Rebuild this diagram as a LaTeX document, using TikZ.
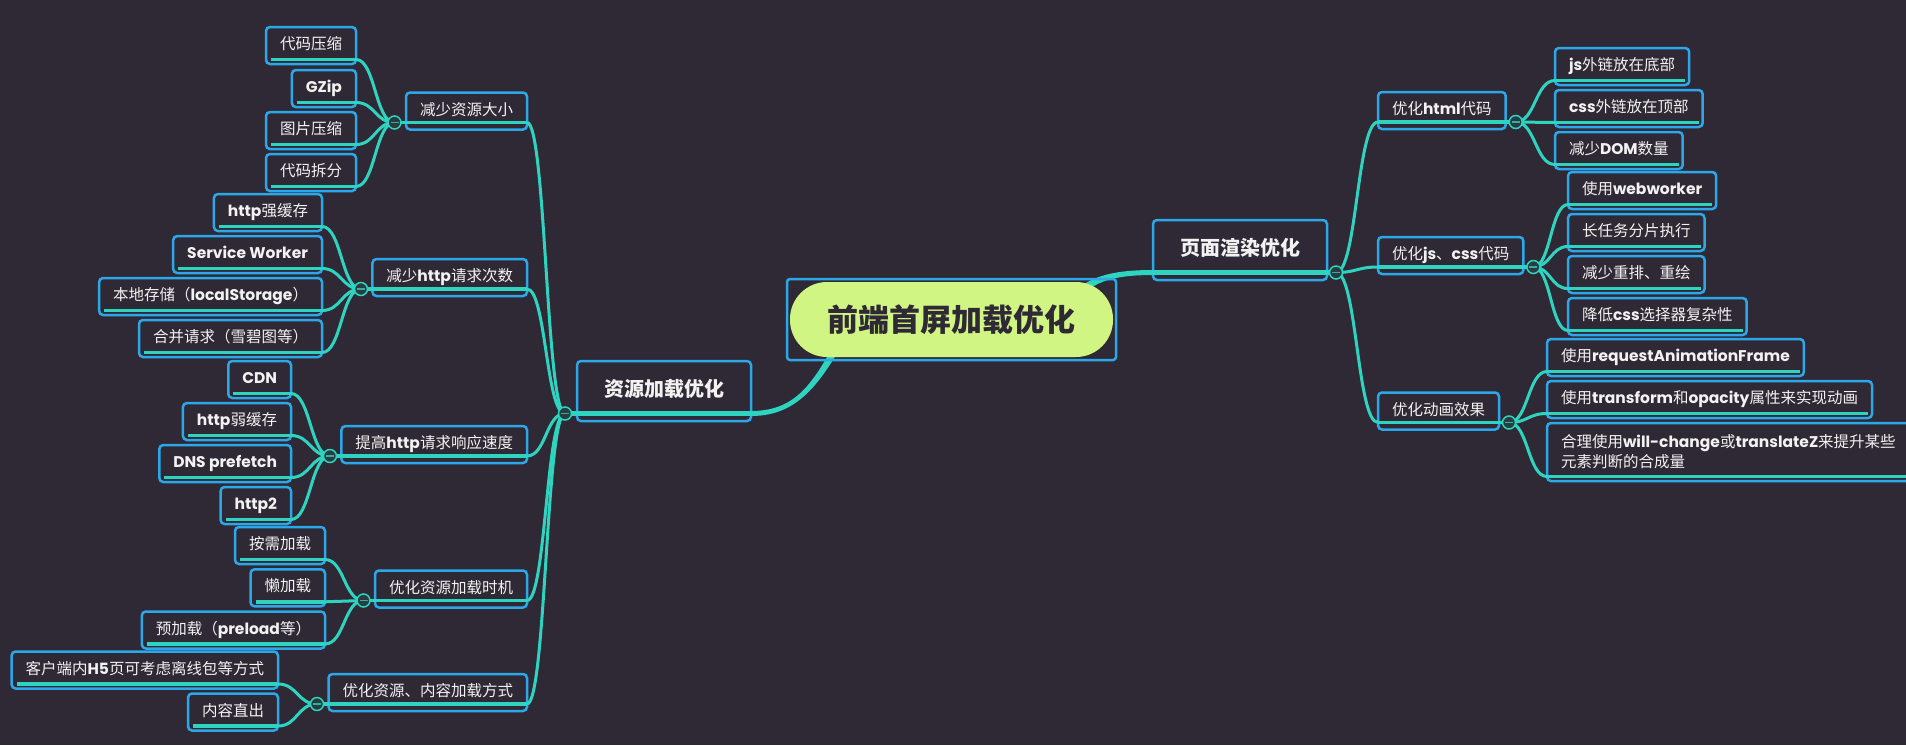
\documentclass[tikz,border=0pt]{standalone}
\usepackage{fontspec}
\setmainfont{Noto Sans CJK SC}
\newfontfamily\latf{Poppins}
\newcommand\EN[1]{{\latf\bfseries #1}}
\usetikzlibrary{calc}
\definecolor{bgc}{RGB}{46,41,52}
\definecolor{bblue}{RGB}{44,168,234}
\definecolor{tealc}{RGB}{46,212,192}
\definecolor{pillc}{RGB}{209,245,130}
\definecolor{txt}{RGB}{242,242,242}
\definecolor{rtxt}{RGB}{46,41,52}
\definecolor{knobfill}{RGB}{38,62,66}
\definecolor{minusc}{RGB}{60,170,160}
\tikzset{
  box/.style={draw=bblue, line width=2.5pt, rounded corners=4pt, text=txt, inner xsep=14pt, inner ysep=0pt, minimum height=37pt, outer sep=0pt, font=\fontsize{15.5pt}{19pt}\selectfont, text height=11.5pt, text depth=3.5pt},
  boxtwo/.style={draw=bblue, line width=2.5pt, rounded corners=4pt, text=txt, inner xsep=14pt, inner ysep=0pt, minimum height=58pt, outer sep=0pt, font=\fontsize{15.5pt}{20pt}\selectfont, align=left},
  topic/.style={draw=bblue, line width=2.5pt, rounded corners=4pt, text=txt, inner xsep=27pt, inner ysep=0pt, minimum height=60pt, outer sep=0pt, font=\bfseries\fontsize{20pt}{24pt}\selectfont, text height=15pt, text depth=4.5pt},
  conn/.style={draw=tealc, line width=3pt},
  ul/.style={draw=tealc, line width=3.5pt},
  ulone/.style={draw=tealc, line width=4.5pt},
  knob/.style={draw=tealc, line width=1.5pt, fill=knobfill},
  minus/.style={draw=minusc, line width=1.6pt},
}
\newcommand\mmconn[2]{\draw[conn] let \p1=(#1), \p2=(#2) in (\p1) .. controls ({(\x1+\x2)/2},\y1) and ({(\x1+\x2)/2},\y2) .. (\p2);}
\newcommand\leftleaf[2]{%
  \coordinate (#1-e) at ($(#1.south east)+(0,-4.5)$);
  \draw[ul] ($(#1.south west)+(5,-4.5)$) -- (#1-e);
  \mmconn{#1-e}{#2}}
\newcommand\rightleaf[2]{%
  \coordinate (#1-w) at ($(#1.south west)+(0,-4.5)$);
  \draw[ul] (#1-w) -- ($(#1.south east)+(-4,-4.5)$);
  \mmconn{#2}{#1-w}}
\newcommand\leftsub[3]{%
  \coordinate (#2) at ($(#1.south west)+(-11.5,-7)$);
  \coordinate (#1-e) at ($(#1.south east)+(0,-7)$);
  \draw[ul] (#2) -- (#1-e);
  \mmconn{#1-e}{#3}}
\newcommand\rightsub[3]{%
  \coordinate (#1-w) at ($(#1.south west)+(0,-7)$);
  \coordinate (#2) at ($(#1.south east)+(10,-7)$);
  \draw[ul] (#1-w) -- (#2);
  \mmconn{#3}{#1-w}}
\newcommand\knob[1]{\path[knob] (#1) circle[radius=6.5pt]; \draw[minus] ($(#1)+(-4,0)$) -- ($(#1)+(4,0)$);}

\begin{document}
\begin{tikzpicture}[x=1pt,y=-1pt]
\useasboundingbox (0,0) rectangle (1906,745);
\fill[bgc] (0,0) rectangle (1906,745);

% main topics
\node[topic, anchor=east] (R) at (751,391) {资源加载优化};
\node[topic, anchor=west] (P) at (1153,250) {页面渲染优化};
\coordinate (cR) at ($(R.south west)+(-12,-7.5)$);
\coordinate (Re) at ($(R.south east)+(0,-7.5)$);
\coordinate (Pw) at ($(P.south west)+(0,-7.5)$);
\coordinate (cP) at ($(P.south east)+(9,-7.5)$);

% left subtopics
\node[box, anchor=east] (s1) at (527,111) {减少资源大小};
\node[box, anchor=east] (s2) at (527,277.5) {减少\EN{http}请求次数};
\node[box, anchor=east] (s3) at (527,444.5) {提高\EN{http}请求响应速度};
\node[box, anchor=east] (s4) at (527,589) {优化资源加载时机};
\node[box, anchor=east] (s5) at (527,692.5) {优化资源、内容加载方式};

% left leaves
\node[box, anchor=east] (a1) at (356,45.5) {代码压缩};
\node[box, anchor=east] (a2) at (356,88.5) {\EN{GZip}};
\node[box, anchor=east] (a3) at (356,130.5) {图片压缩};
\node[box, anchor=east] (a4) at (356,172.5) {代码拆分};
\node[box, anchor=east] (b1) at (322,212.5) {\EN{http}强缓存};
\node[box, anchor=east] (b2) at (322,254.5) {\EN{Service Worker}};
\node[box, anchor=east] (b3) at (322,296.5) {本地存储（\EN{localStorage}）};
\node[box, anchor=east] (b4) at (322,338.5) {合并请求（雪碧图等）};
\node[box, anchor=east] (e1) at (291,379.5) {\EN{CDN}};
\node[box, anchor=east] (e2) at (291,421.5) {\EN{http}弱缓存};
\node[box, anchor=east] (e3) at (291,463.5) {\EN{DNS prefetch}};
\node[box, anchor=east] (e4) at (291,505.5) {\EN{http2}};
\node[box, anchor=east] (f1) at (325,545.5) {按需加载};
\node[box, anchor=east] (f2) at (325,587.8) {懒加载};
\node[box, anchor=east] (f3) at (325,630) {预加载（\EN{preload}等）};
\node[box, anchor=east] (g1) at (278,670) {客户端内\EN{H5}页可考虑离线包等方式};
\node[box, anchor=east] (g2) at (278,712) {内容直出};

% right subtopics
\node[box, anchor=west] (h1) at (1378,110.5) {优化\EN{html}代码};
\node[box, anchor=west] (h2) at (1378,255.5) {优化\EN{js}、\EN{css}代码};
\node[box, anchor=west] (h3) at (1378,411) {优化动画效果};

% right leaves
\node[box, anchor=west] (j1) at (1555,66.5) {\EN{js}外链放在底部};
\node[box, anchor=west] (j2) at (1555,108.5) {\EN{css}外链放在顶部};
\node[box, anchor=west] (j3) at (1555,150.5) {减少\EN{DOM}数量};
\node[box, anchor=west] (k1) at (1568,190.5) {使用\EN{webworker}};
\node[box, anchor=west] (k2) at (1568,232.5) {长任务分片执行};
\node[box, anchor=west] (k3) at (1568,274.5) {减少重排、重绘};
\node[box, anchor=west] (k4) at (1568,316.5) {降低\EN{css}选择器复杂性};
\node[box, anchor=west] (m1) at (1547,357.5) {使用\EN{requestAnimationFrame}};
\node[box, anchor=west] (m2) at (1547,399.5) {使用\EN{transform}和\EN{opacity}属性来实现动画};
\node[boxtwo, anchor=west] (m3) at (1547,452) {合理使用\EN{will-change}或\EN{translateZ}来提升某些\\元素判断的合成量};

% topic underlines
\draw[ulone] (cR) -- (Re);
\draw[ulone] (Pw) -- (cP);

% left subtopics to topic
\leftsub{s1}{k1s}{cR}
\leftsub{s2}{k2s}{cR}
\leftsub{s3}{k3s}{cR}
\leftsub{s4}{k4s}{cR}
\leftsub{s5}{k5s}{cR}

% left leaves
\leftleaf{a1}{k1s}\leftleaf{a2}{k1s}\leftleaf{a3}{k1s}\leftleaf{a4}{k1s}
\leftleaf{b1}{k2s}\leftleaf{b2}{k2s}\leftleaf{b3}{k2s}\leftleaf{b4}{k2s}
\leftleaf{e1}{k3s}\leftleaf{e2}{k3s}\leftleaf{e3}{k3s}\leftleaf{e4}{k3s}
\leftleaf{f1}{k4s}\leftleaf{f2}{k4s}\leftleaf{f3}{k4s}
\leftleaf{g1}{k5s}\leftleaf{g2}{k5s}

% right subtopics
\rightsub{h1}{kh1}{cP}
\rightsub{h2}{kh2}{cP}
\rightsub{h3}{kh3}{cP}
\rightleaf{j1}{kh1}\rightleaf{j2}{kh1}\rightleaf{j3}{kh1}
\rightleaf{k1}{kh2}\rightleaf{k2}{kh2}\rightleaf{k3}{kh2}\rightleaf{k4}{kh2}
\rightleaf{m1}{kh3}\rightleaf{m2}{kh3}\rightleaf{m3}{kh3}

% tapered root branches
\fill[tealc] (751,411) .. controls (800,411) and (817,378.5) .. (848.4,316.2) -- (855.6,319.8) .. controls (823,381.5) and (800,416) .. (751,416) -- cycle;
\fill[tealc] (1059.1,305.2) .. controls (1082,281.5) and (1099,270) .. (1153,270) -- (1153,275) .. controls (1101,275) and (1088,286.5) .. (1064.9,310.8) -- cycle;

% knobs
\knob{cR}\knob{cP}
\knob{k1s}\knob{k2s}\knob{k3s}\knob{k4s}\knob{k5s}
\knob{kh1}\knob{kh2}\knob{kh3}

% root
\node[draw=bblue, line width=2.5pt, rounded corners=3pt, minimum width=329pt, minimum height=81pt, outer sep=0pt] (rootbox) at (951.5,319.5) {};
\node[fill=pillc, rounded corners=37pt, minimum width=323pt, minimum height=75pt, inner sep=0pt, text=rtxt, font=\bfseries\fontsize{31pt}{36pt}\selectfont] (root) at (951.5,319.5) {前端首屏加载优化};
\end{tikzpicture}
\end{document}
